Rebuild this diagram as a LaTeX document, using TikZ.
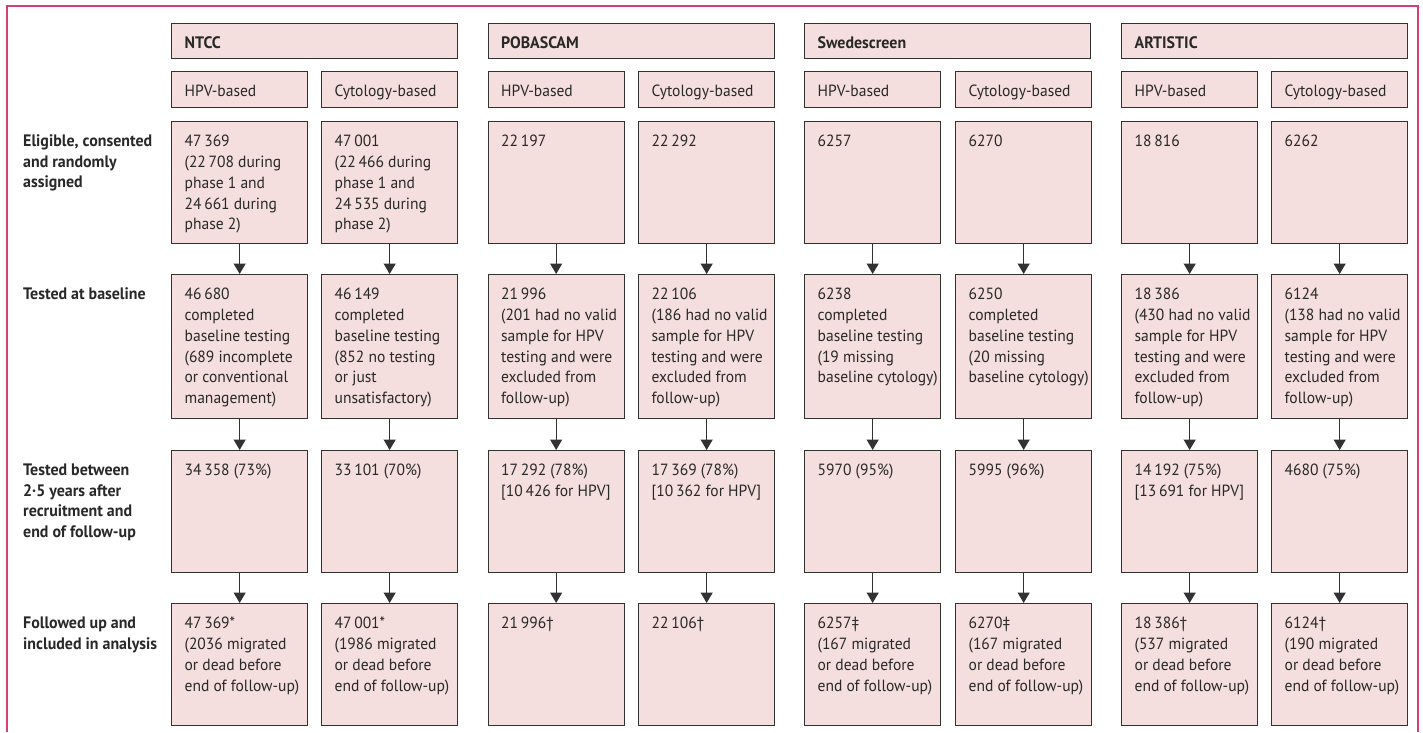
\documentclass[tikz,border=0pt]{standalone}
\usepackage{fontspec}
\setmainfont[FakeStretch=0.96]{PT Sans}
\usetikzlibrary{arrows.meta}

\definecolor{boxfill}{RGB}{244,222,222}
\definecolor{boxline}{RGB}{50,50,50}
\definecolor{frameline}{RGB}{214,64,112}
\definecolor{txtgray}{RGB}{40,40,40}

% Box texts: fixed height, text starting at the top, 13pt from the left side
\newcommand{\ctext}[2]{\parbox[t][#1][t]{136pt}{\raggedright\leftskip=13pt\vspace*{10.5pt}\strut #2}}
\newcommand{\htext}[1]{\parbox[t][35pt][t]{286pt}{\raggedright\leftskip=13pt\vspace*{10.5pt}\fontsize{16.6}{20.8}\selectfont\strut\bfseries #1}}
\newcommand{\ltext}[1]{\parbox[t]{145pt}{\raggedright\vspace*{10.5pt}\fontsize{16.6}{20.8}\selectfont\strut\bfseries #1}}

\begin{document}
\begin{tikzpicture}[x=1pt, y=-1pt,
    cell/.style={draw=boxline, fill=boxfill, line width=1.3pt, anchor=north west,
        inner sep=0pt, text=txtgray, font=\fontsize{16.2}{20.8}\selectfont},
    lab/.style={anchor=north west, inner sep=0pt, text=txtgray, font=\fontsize{16.2}{20.8}\selectfont},
    arr/.style={-{Triangle[width=12pt,length=10.5pt]}, line width=1.3pt, draw=boxline}]
    \useasboundingbox (0,0) rectangle (1423,732);

    % Draw the outer frame, open at the bottom
    \draw[frameline, line width=2pt] (7,732) -- (7,6) -- (1418,6) -- (1418,732);

    % Trial headers
    \node[cell] (nT) at (171,23) {\htext{NTCC}};
    \node[cell] (pT) at (487.5,23) {\htext{POBASCAM}};
    \node[cell] (sT) at (804,23) {\htext{Swedescreen}};
    \node[cell] (aT) at (1121,23) {\htext{ARTISTIC}};

    % Arms of each trial
    \node[cell] (nH0) at (171,71) {\ctext{36pt}{HPV-based}};
    \node[cell] (nC0) at (321,71) {\ctext{36pt}{Cytology-based}};
    \node[cell] (pH0) at (487.5,71) {\ctext{36pt}{HPV-based}};
    \node[cell] (pC0) at (638,71) {\ctext{36pt}{Cytology-based}};
    \node[cell] (sH0) at (804,71) {\ctext{36pt}{HPV-based}};
    \node[cell] (sC0) at (955,71) {\ctext{36pt}{Cytology-based}};
    \node[cell] (aH0) at (1121,71) {\ctext{36pt}{HPV-based}};
    \node[cell] (aC0) at (1271,71) {\ctext{36pt}{Cytology-based}};

    % Row labels on the left
    \node[lab] (l1) at (23,121) {\ltext{Eligible, consented\\and randomly\\assigned}};
    \node[lab] (l2) at (23,274) {\ltext{Tested at baseline}};
    \node[lab] (l3) at (23,450) {\ltext{Tested between\\2·5 years after\\recruitment and\\end of follow-up}};
    \node[lab] (l4) at (23,603) {\ltext{Followed up and\\included in analysis}};

    % Row 1: eligible, consented and randomly assigned
    \node[cell] (nH1) at (171,121) {\ctext{122pt}{47\,369\\(22\,708 during\\phase 1 and\\24\,661 during\\phase 2)}};
    \node[cell] (nC1) at (321,121) {\ctext{122pt}{47\,001\\(22\,466 during\\phase 1 and\\24\,535 during\\phase 2)}};
    \node[cell] (pH1) at (487.5,121) {\ctext{122pt}{22\,197}};
    \node[cell] (pC1) at (638,121) {\ctext{122pt}{22\,292}};
    \node[cell] (sH1) at (804,121) {\ctext{122pt}{6257}};
    \node[cell] (sC1) at (955,121) {\ctext{122pt}{6270}};
    \node[cell] (aH1) at (1121,121) {\ctext{122pt}{18\,816}};
    \node[cell] (aC1) at (1271,121) {\ctext{122pt}{6262}};

    % Row 2: tested at baseline
    \node[cell] (nH2) at (171,274) {\ctext{144pt}{46\,680\\completed\\baseline testing\\(689 incomplete\\or conventional\\management)}};
    \node[cell] (nC2) at (321,274) {\ctext{144pt}{46\,149\\completed\\baseline testing\\(852 no testing\\or just\\unsatisfactory)}};
    \node[cell] (pH2) at (487.5,274) {\ctext{144pt}{21\,996\\(201 had no valid\\sample for HPV\\testing and were\\excluded from\\follow-up)}};
    \node[cell] (pC2) at (638,274) {\ctext{144pt}{22\,106\\(186 had no valid\\sample for HPV\\testing and were\\excluded from\\follow-up)}};
    \node[cell] (sH2) at (804,274) {\ctext{144pt}{6238\\completed\\baseline testing\\(19 missing\\baseline cytology)}};
    \node[cell] (sC2) at (955,274) {\ctext{144pt}{6250\\completed\\baseline testing\\(20 missing\\baseline cytology)}};
    \node[cell] (aH2) at (1121,274) {\ctext{144pt}{18\,386\\(430 had no valid\\sample for HPV\\testing and were\\excluded from\\follow-up)}};
    \node[cell] (aC2) at (1271,274) {\ctext{144pt}{6124\\(138 had no valid\\sample for HPV\\testing and were\\excluded from\\follow-up)}};

    % Row 3: tested between 2.5 years after recruitment and end of follow-up
    \node[cell] (nH3) at (171,450) {\ctext{122pt}{34\,358 (73\%)}};
    \node[cell] (nC3) at (321,450) {\ctext{122pt}{33\,101 (70\%)}};
    \node[cell] (pH3) at (487.5,450) {\ctext{122pt}{17\,292 (78\%)\\{[}10\,426 for HPV]}};
    \node[cell] (pC3) at (638,450) {\ctext{122pt}{17\,369 (78\%)\\{[}10\,362 for HPV]}};
    \node[cell] (sH3) at (804,450) {\ctext{122pt}{5970 (95\%)}};
    \node[cell] (sC3) at (955,450) {\ctext{122pt}{5995 (96\%)}};
    \node[cell] (aH3) at (1121,450) {\ctext{122pt}{14\,192 (75\%)\\{[}13\,691 for HPV]}};
    \node[cell] (aC3) at (1271,450) {\ctext{122pt}{4680 (75\%)}};

    % Row 4: followed up and included in analysis
    \node[cell] (nH4) at (171,603) {\ctext{122pt}{47\,369*\\(2036 migrated\\or dead before\\end of follow-up)}};
    \node[cell] (nC4) at (321,603) {\ctext{122pt}{47\,001*\\(1986 migrated\\or dead before\\end of follow-up)}};
    \node[cell] (pH4) at (487.5,603) {\ctext{122pt}{21\,996†}};
    \node[cell] (pC4) at (638,603) {\ctext{122pt}{22\,106†}};
    \node[cell] (sH4) at (804,603) {\ctext{122pt}{6257‡\\(167 migrated\\or dead before\\end of follow-up)}};
    \node[cell] (sC4) at (955,603) {\ctext{122pt}{6270‡\\(167 migrated\\or dead before\\end of follow-up)}};
    \node[cell] (aH4) at (1121,603) {\ctext{122pt}{18\,386†\\(537 migrated\\or dead before\\end of follow-up)}};
    \node[cell] (aC4) at (1271,603) {\ctext{122pt}{6124†\\(190 migrated\\or dead before\\end of follow-up)}};

    % Draw arrows down each column
    \draw[arr] (nH1) -- (nH2); \draw[arr] (nH2) -- (nH3); \draw[arr] (nH3) -- (nH4);
    \draw[arr] (nC1) -- (nC2); \draw[arr] (nC2) -- (nC3); \draw[arr] (nC3) -- (nC4);
    \draw[arr] (pH1) -- (pH2); \draw[arr] (pH2) -- (pH3); \draw[arr] (pH3) -- (pH4);
    \draw[arr] (pC1) -- (pC2); \draw[arr] (pC2) -- (pC3); \draw[arr] (pC3) -- (pC4);
    \draw[arr] (sH1) -- (sH2); \draw[arr] (sH2) -- (sH3); \draw[arr] (sH3) -- (sH4);
    \draw[arr] (sC1) -- (sC2); \draw[arr] (sC2) -- (sC3); \draw[arr] (sC3) -- (sC4);
    \draw[arr] (aH1) -- (aH2); \draw[arr] (aH2) -- (aH3); \draw[arr] (aH3) -- (aH4);
    \draw[arr] (aC1) -- (aC2); \draw[arr] (aC2) -- (aC3); \draw[arr] (aC3) -- (aC4);

\end{tikzpicture}
\end{document}
